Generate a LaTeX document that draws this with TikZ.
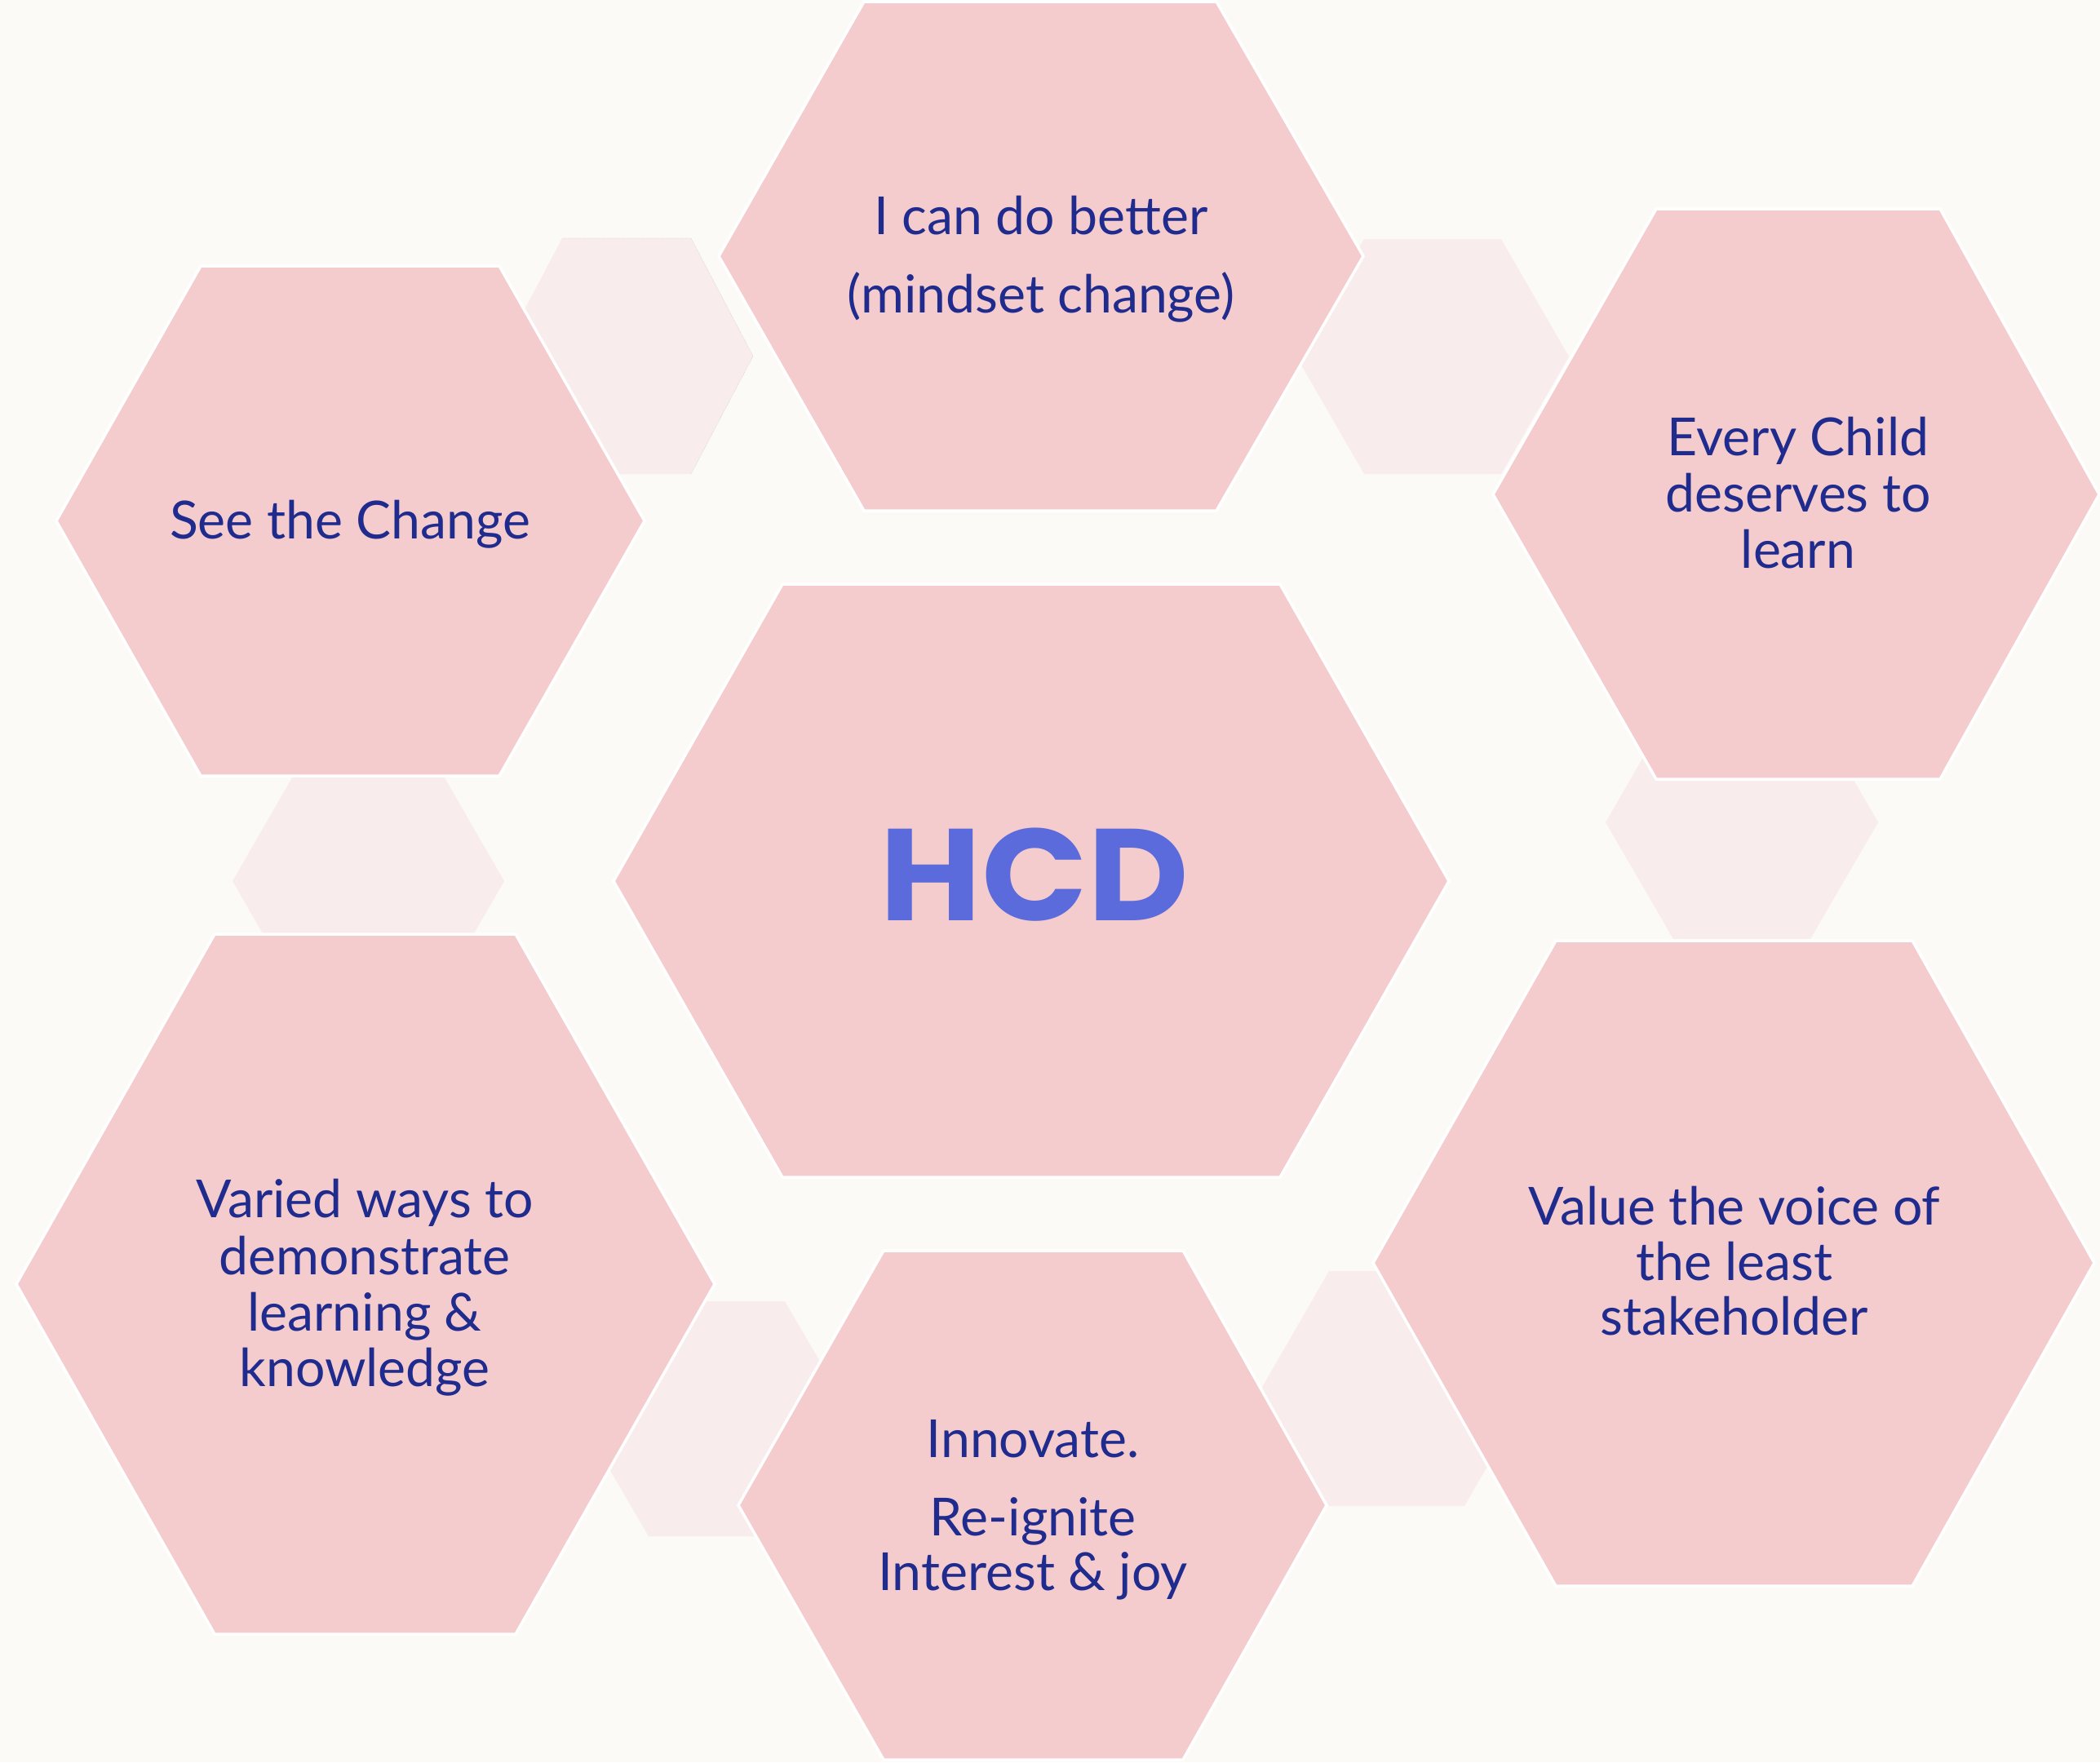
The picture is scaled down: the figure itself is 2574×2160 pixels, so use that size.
\documentclass[tikz,border=0pt]{standalone}
\usepackage{fontspec}
\setmainfont{Lato}
\newfontfamily\hcdfont{Poppins}
\definecolor{bgc}{HTML}{FBFAF6}
\definecolor{pinkc}{HTML}{F4CCCE}
\definecolor{lightc}{HTML}{F9ECEC}
\definecolor{navyc}{HTML}{202B8E}
\definecolor{hcdc}{HTML}{5B6BDB}
\tikzset{
  lighthex/.style={fill=lightc, draw=none},
  pinkhex/.style={fill=pinkc, draw=white, line width=3.5pt, line join=miter},
  lbl/.style={inner sep=0pt, anchor=base, text=navyc, font=\fontsize{64.3}{68}\selectfont},
}
\begin{document}
\begin{tikzpicture}[x=1pt,y=-1pt]
\useasboundingbox (0,0) rectangle (2574,2160);
\fill[bgc] (0,0) rectangle (2574,2160);
% light hexagons (behind)
\fill[lighthex] (689,292) -- (847,292) -- (923,436.5) -- (847,581) -- (689,581) -- (613,436.5) -- cycle;
\draw[black!14, line width=0.7pt, dash pattern=on 1.2pt off 1.2pt] (689,292) -- (847,292) -- (923,436.5) -- (847,581);
\fill[lighthex] (1672,293) -- (1840,293) -- (1923,437) -- (1840,581) -- (1672,581) -- (1589,437) -- cycle;
\fill[lighthex] (368,936) -- (535,936) -- (618,1080) -- (535,1224) -- (368,1224) -- (285,1080) -- cycle;
\fill[lighthex] (2051,864) -- (2219,864) -- (2302,1008) -- (2219,1151) -- (2051,1151) -- (1968,1008) -- cycle;
\fill[lighthex] (795,1595) -- (962,1595) -- (1046,1739) -- (962,1883) -- (795,1883) -- (711,1739) -- cycle;
\fill[lighthex] (1629,1558) -- (1795,1558) -- (1878,1702) -- (1795,1846) -- (1629,1846) -- (1546,1702) -- cycle;
% main hexagons
\filldraw[pinkhex] (1059,2) -- (1491,2) -- (1671,314) -- (1491,626) -- (1059,626) -- (881,314) -- cycle;
\filldraw[pinkhex] (2030,256) -- (2378,256) -- (2573,606) -- (2378,955) -- (2030,955) -- (1830,606) -- cycle;
\filldraw[pinkhex] (246,326) -- (612,326) -- (790,638.5) -- (612,951) -- (246,951) -- (69,638.5) -- cycle;
\filldraw[pinkhex] (959,716) -- (1569,716) -- (1776,1080) -- (1569,1443) -- (959,1443) -- (752,1080) -- cycle;
\filldraw[pinkhex] (263,1145) -- (632,1145) -- (876,1574) -- (632,2003) -- (263,2003) -- (20,1574) -- cycle;
\filldraw[pinkhex] (1083,1533) -- (1450,1533) -- (1626,1845) -- (1450,2157) -- (1083,2157) -- (905,1845) -- cycle;
\filldraw[pinkhex] (1907,1153) -- (2344,1153) -- (2567,1548) -- (2344,1944) -- (1907,1944) -- (1683,1548) -- cycle;
% texts
\node[lbl] (tc1) at (1276,287) {I can do better};
\node[lbl] (tc2) at (1276,383) {(mindset change)};
\node[lbl] (sc1) at (429,660) {See the Change};
\node[lbl] (ec1) at (2204,558) {Every Child};
\node[lbl] (ec2) at (2204,627) {deserves to};
\node[lbl] (ec3) at (2204,696) {learn};
\node[inner sep=0pt, anchor=base, text=hcdc, font=\hcdfont\bfseries\fontsize{160}{160}\selectfont] (hcd) at (1268,1128) {\scalebox{1.065}[1]{HCD}};
\node[lbl] (vw1) at (447,1492) {Varied ways to};
\node[lbl] (vw2) at (447,1562) {demonstrate};
\node[lbl] (vw3) at (447,1631) {learning \&};
\node[lbl] (vw4) at (447,1699) {knowledge};
\node[lbl] (in1) at (1266,1786) {Innovate.};
\node[lbl] (in2) at (1266,1882) {Re-ignite};
\node[lbl] (in3) at (1266,1949) {Interest \& joy};
\node[lbl] (va1) at (2126,1501) {Value the voice of};
\node[lbl] (va2) at (2126,1569) {the least};
\node[lbl] (va3) at (2126,1636) {stakeholder};
\end{tikzpicture}
\end{document}
